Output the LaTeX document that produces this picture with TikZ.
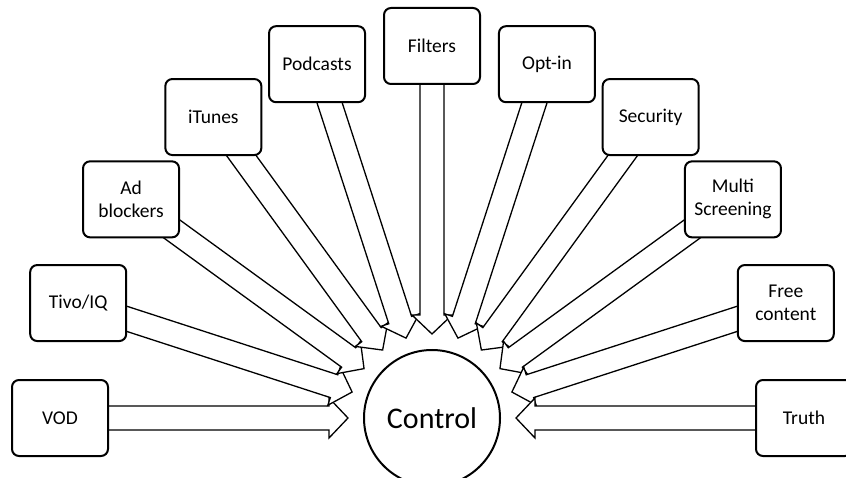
\documentclass[tikz,border=0pt]{standalone}
\usepackage{fontspec}
\setmainfont{Carlito}
\usetikzlibrary{calc}
\pgfdeclarelayer{behind}
\pgfsetlayers{behind,main}

\tikzset{
  labelbox/.style={draw, line width=2pt, rounded corners=7pt, fill=white,
    minimum width=96pt, minimum height=76pt, align=center,
    font=\fontsize{19.5}{23}\selectfont, inner sep=2pt},
  hub/.style={draw, circle, line width=2pt, minimum size=136pt, inner sep=0pt,
    font=\fontsize{30}{34}\selectfont},
  blockarrow/.style={draw, line width=1.3pt, fill=white, line join=miter}
}

% hollow block arrow from a box towards the hub
\newcommand\feedarrow[1]{%
  \coordinate (tp) at ($(ctrl.center)!84pt!(#1.center)$);
  \coordinate (hb) at ($(ctrl.center)!103pt!(#1.center)$);
  \draw[blockarrow] (tp)
    -- ($(hb)!20pt!90:(#1.center)$)
    -- ($(hb)!12pt!90:(#1.center)$)
    -- ($(#1.center)!12pt!-90:(hb)$)
    -- ($(#1.center)!12pt!90:(hb)$)
    -- ($(hb)!12pt!-90:(#1.center)$)
    -- ($(hb)!20pt!-90:(#1.center)$)
    -- cycle;}

\begin{document}
\begin{tikzpicture}[x=1pt, y=1pt]
  \useasboundingbox (0,0) rectangle (846,-478);
  \clip (0,0) rectangle (846,-478);
  \coordinate (C) at (432,-418);

  \node[hub] (ctrl) at (C) {Control};

  \node[labelbox] (vod)      at ([shift={(180:372)}]C) {VOD};
  \node[labelbox] (tivo)     at ([shift={(162:372)}]C) {Tivo/IQ};
  \node[labelbox] (adblock)  at ([shift={(144:372)}]C) {Ad\\blockers};
  \node[labelbox] (itunes)   at ([shift={(126:372)}]C) {iTunes};
  \node[labelbox] (podcasts) at ([shift={(108:372)}]C) {Podcasts};
  \node[labelbox] (filters)  at ([shift={(90:372)}]C)  {Filters};
  \node[labelbox] (optin)    at ([shift={(72:372)}]C)  {Opt-in};
  \node[labelbox] (security) at ([shift={(54:372)}]C)  {Security};
  \node[labelbox] (multi)    at ([shift={(36:372)}]C)  {Multi\\Screening};
  \node[labelbox] (free)     at ([shift={(18:372)}]C)  {Free\\content};
  \node[labelbox] (truth)    at ([shift={(0:372)}]C)   {Truth};

  \begin{pgfonlayer}{behind}
    \foreach \b in {vod,tivo,adblock,itunes,podcasts,filters,optin,security,multi,free,truth}
      {\feedarrow{\b}}
  \end{pgfonlayer}
\end{tikzpicture}
\end{document}
